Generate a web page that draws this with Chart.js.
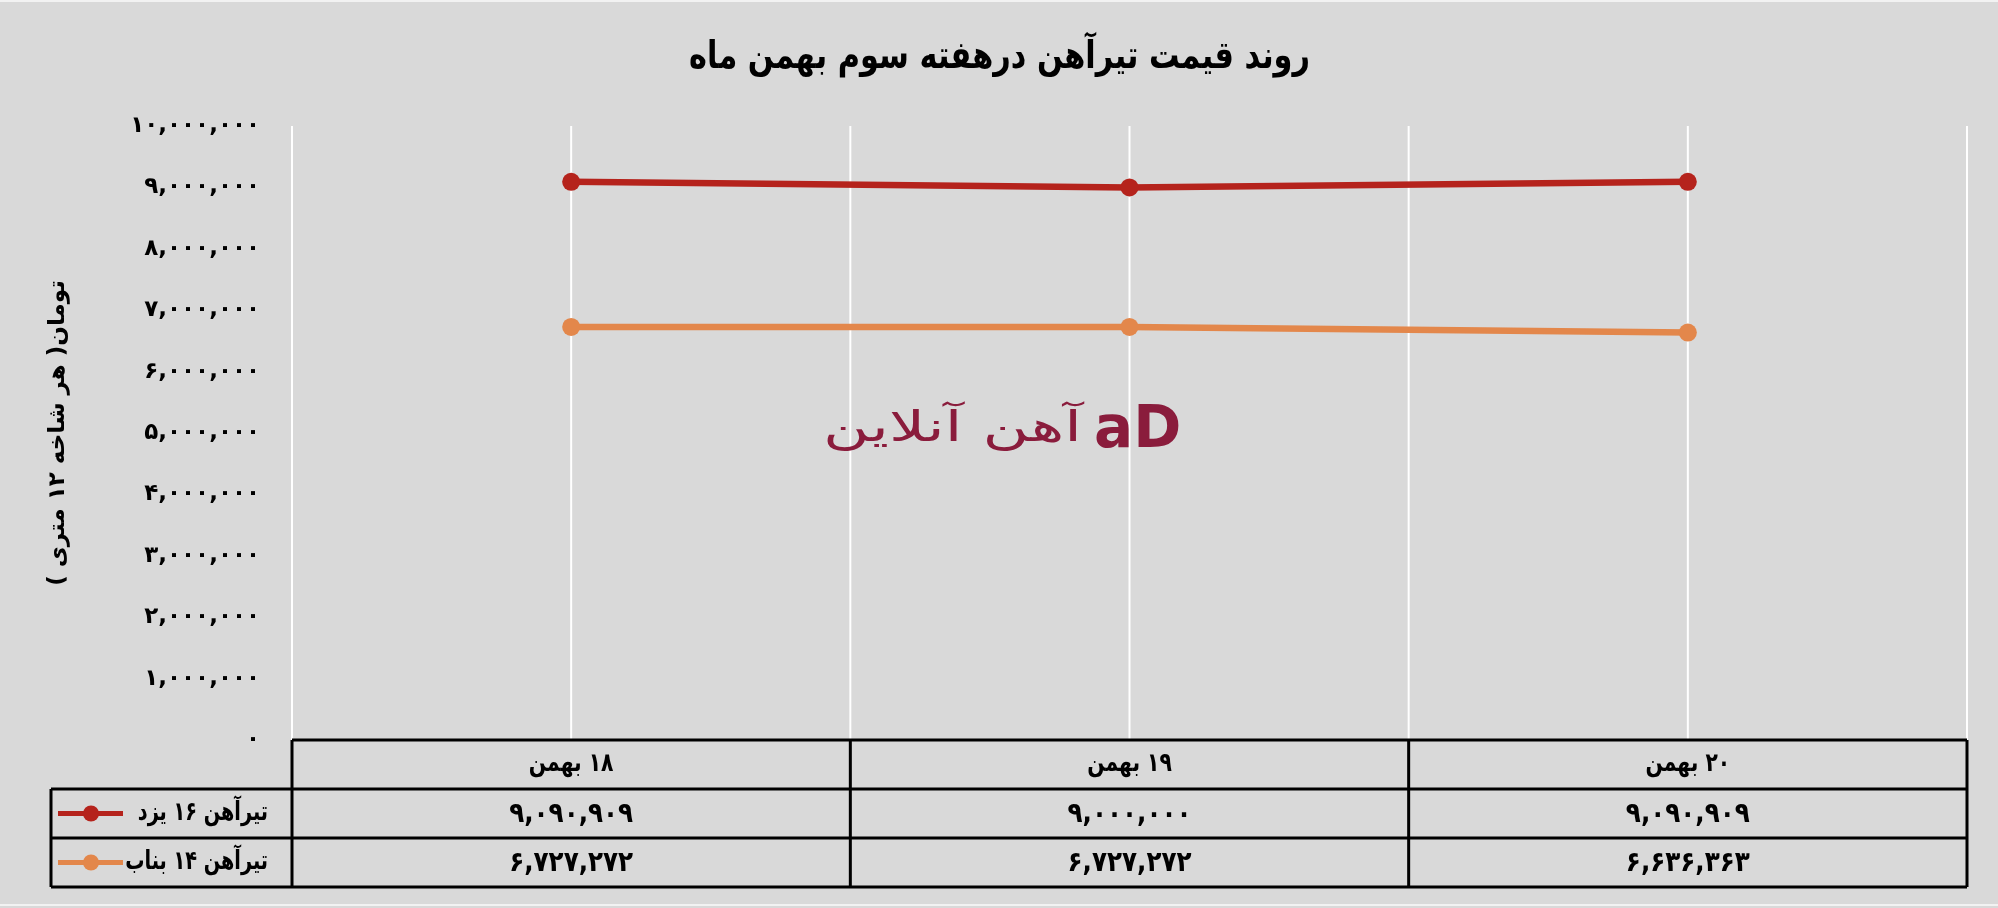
<!DOCTYPE html>
<html>
<head>
<meta charset="utf-8">
<script src="https://cdn.jsdelivr.net/npm/chart.js@4.4.1/dist/chart.umd.min.js"></script>
<style>
  html,body{margin:0;padding:0;background:#D9D9D9;}
  #wrap{width:1998px;height:908px;position:relative;}
</style>
</head>
<body>
<div id="wrap"><canvas id="c" width="1998" height="908"></canvas></div>
<script>
// ---- data ----
const chartTitle = 'روند قیمت تیرآهن درهفته سوم بهمن ماه';
const yAxisTitle = 'تومان( هر شاخه ۱۲ متری )';
const categories = ['۱۸ بهمن', '۱۹ بهمن', '۲۰ بهمن'];
const seriesNames = ['تیرآهن ۱۶ یزد', 'تیرآهن ۱۴ بناب'];
const yazd16 = [9090909, 9000000, 9090909];
const bonab14 = [6727272, 6727272, 6636363];
const yMin = 0, yMax = 10000000, yStep = 1000000;
const watermarkText = 'آهن آنلاین';
const watermarkLogo = 'aD';

const FONT = "'DejaVu Sans'";
const RED = '#B5231C';
const ORANGE = '#E3874B';

function fa(n) {
  const s = Number(n).toLocaleString('en-US');
  return s.replace(/[0-9]/g, d => '۰۱۲۳۴۵۶۷۸۹'[+d]);
}

// draw text horizontally condensed (to mimic the narrow heavy Persian font)
function condText(ctx, text, x, y, font, sx, align, dir) {
  ctx.save();
  ctx.font = font;
  ctx.direction = dir || 'rtl';
  ctx.textAlign = align || 'center';
  ctx.textBaseline = 'middle';
  ctx.translate(x, y);
  ctx.scale(sx, 1);
  ctx.fillText(text, 0, 0);
  ctx.restore();
}

const gridAndTable = {
  id: 'gridAndTable',
  beforeDatasetsDraw(chart) {
    const {ctx, chartArea} = chart;
    const x = chart.scales.x;
    const half = (x.getPixelForValue(1) - x.getPixelForValue(0)) / 2;
    ctx.save();
    ctx.strokeStyle = '#FFFFFF';
    ctx.lineWidth = 2;
    for (let i = 0; i < categories.length; i++) {
      const cx = x.getPixelForValue(i);
      const xs = [cx, cx - half];
      if (i === categories.length - 1) xs.push(cx + half);
      xs.forEach(px => {
        ctx.beginPath();
        ctx.moveTo(px, chartArea.top);
        ctx.lineTo(px, chartArea.bottom);
        ctx.stroke();
      });
    }
    // watermark
    ctx.fillStyle = '#8A1C3C';
    ctx.font = '42px ' + FONT;
    const w = ctx.measureText(watermarkText).width;
    condText(ctx, watermarkText, 1082, 430, '42px ' + FONT, 259 / w, 'right', 'rtl');
    condText(ctx, watermarkLogo, 1094, 432, 'bold 58px ' + FONT, 1, 'left', 'ltr');
    ctx.restore();
  },
  afterDraw(chart) {
    const {ctx, chartArea} = chart;
    const x = chart.scales.x;
    const half = (x.getPixelForValue(1) - x.getPixelForValue(0)) / 2;
    const left = chartArea.left, right = chartArea.right;
    const top = chartArea.bottom;
    const rowH = 49;
    const legLeft = 51;
    const rows = [top, top + rowH, top + 2 * rowH, top + 3 * rowH];
    ctx.save();
    // title
    ctx.fillStyle = '#000000';
    condText(ctx, chartTitle, (left + right) / 2 - 130, 58, 'bold 38px ' + FONT, 0.8, 'center', 'rtl');

    ctx.strokeStyle = '#000000';
    ctx.lineWidth = 3;
    ctx.beginPath();
    ctx.moveTo(left, rows[0]); ctx.lineTo(right, rows[0]);
    for (let r = 1; r <= 3; r++) { ctx.moveTo(legLeft, rows[r]); ctx.lineTo(right, rows[r]); }
    ctx.moveTo(legLeft, rows[1]); ctx.lineTo(legLeft, rows[3]);
    for (let i = 0; i < categories.length; i++) {
      const bx = x.getPixelForValue(i) - half;
      ctx.moveTo(bx, rows[0]); ctx.lineTo(bx, rows[3]);
    }
    ctx.moveTo(right, rows[0]); ctx.lineTo(right, rows[3]);
    ctx.stroke();

    ctx.fillStyle = '#000000';
    categories.forEach((c, i) =>
      condText(ctx, c, x.getPixelForValue(i), rows[0] + rowH / 2, 'bold 26px ' + FONT, 0.78, 'center', 'rtl'));
    chart.data.datasets.forEach((ds, r) => {
      const cy = rows[r + 1] + rowH / 2;
      ds.data.forEach((v, i) => {
        condText(ctx, fa(v), x.getPixelForValue(i), cy + 1, 'bold 28px ' + FONT, 0.88, 'center', 'ltr');
      });
      // legend key
      ctx.strokeStyle = ds.borderColor;
      ctx.lineWidth = 5;
      ctx.beginPath(); ctx.moveTo(58, cy); ctx.lineTo(123, cy); ctx.stroke();
      ctx.fillStyle = ds.borderColor;
      ctx.beginPath(); ctx.arc(91, cy, 8, 0, Math.PI * 2); ctx.fill();
      ctx.fillStyle = '#000000';
      condText(ctx, ds.label, 268, cy, 'bold 26px ' + FONT, 0.74, 'right', 'rtl');
    });
    // faint sheet borders
    ctx.strokeStyle = '#F2F2F2';
    ctx.lineWidth = 2;
    ctx.beginPath();
    ctx.moveTo(0, 1); ctx.lineTo(1998, 1);
    ctx.moveTo(0, 905); ctx.lineTo(1998, 905);
    ctx.stroke();
    ctx.restore();
  }
};

new Chart(document.getElementById('c'), {
  type: 'line',
  data: {
    labels: categories,
    datasets: [
      { label: seriesNames[0], data: yazd16, borderColor: RED, backgroundColor: RED,
        borderWidth: 6.5, pointRadius: 9, pointHoverRadius: 9, pointBackgroundColor: RED, pointBorderWidth: 0, tension: 0 },
      { label: seriesNames[1], data: bonab14, borderColor: ORANGE, backgroundColor: ORANGE,
        borderWidth: 6.5, pointRadius: 9, pointHoverRadius: 9, pointBackgroundColor: ORANGE, pointBorderWidth: 0, tension: 0 }
    ]
  },
  options: {
    responsive: false,
    animation: false,
    devicePixelRatio: 1,
    layout: { padding: { left: 44, right: 31, top: 126, bottom: 168 } },
    plugins: {
      legend: { display: false },
      tooltip: { enabled: false },
      title: { display: false }
    },
    scales: {
      x: {
        type: 'category', offset: true,
        grid: { display: false, drawTicks: false },
        border: { display: false },
        ticks: { display: false },
        afterFit: s => { s.height = 0; }
      },
      y: {
        min: yMin, max: yMax,
        grid: { display: false, drawTicks: false },
        border: { display: false },
        ticks: {
          stepSize: yStep, padding: 32, color: '#000000',
          font: { family: FONT, size: 23, weight: 'bold' },
          callback: v => fa(v)
        },
        title: {
          display: true, text: yAxisTitle, color: '#000000', padding: 0,
          font: { family: FONT, size: 23, weight: 'bold', lineHeight: 1.2 }
        },
        afterFit: s => { s.width = 248; }
      }
    }
  },
  plugins: [gridAndTable]
});
</script>
</body>
</html>
